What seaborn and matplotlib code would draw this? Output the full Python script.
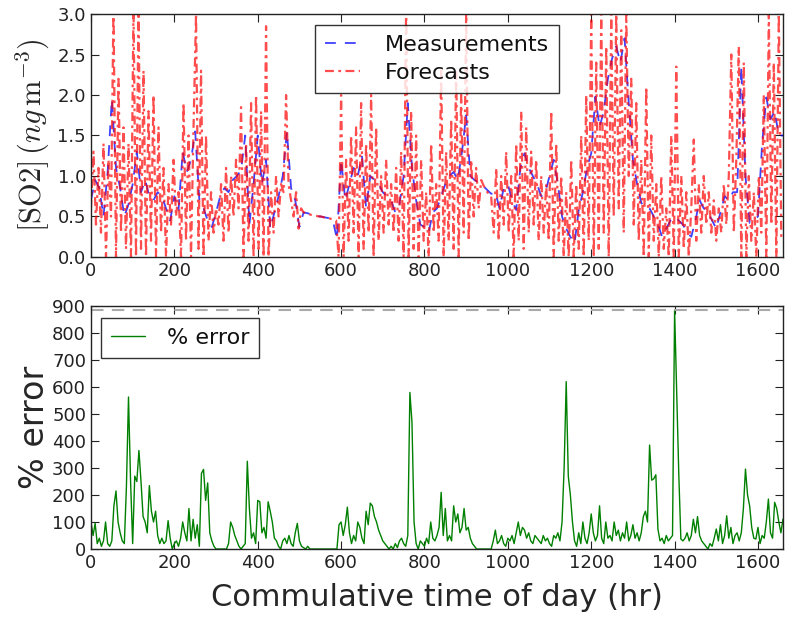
import numpy as np
import pandas as pd
import matplotlib
matplotlib.use("Agg")
import matplotlib.pyplot as plt
import seaborn as sns

# Measured SO2 concentration, one value every 10 hours (ng m^-3)
measurements = [
    0.70, 0.95, 0.85, 0.50, 1.05, 1.95, 1.10, 0.85, 0.50, 0.65,
    0.90, 1.30, 0.80, 0.95, 0.75, 0.70, 0.80, 0.75, 0.60, 0.45,
    0.75, 0.58, 1.30, 1.05, 1.20, 1.55, 0.70, 0.60, 0.45, 0.37,
    0.55, 0.75, 0.85, 0.80, 0.95, 1.00, 1.07, 1.50, 0.40, 0.90,
    1.50, 0.90, 1.20, 0.35, 0.55, 0.75, 1.00, 1.55, 0.85, 0.70,
    0.37, 0.55, 0.54, 0.52, 0.51, 0.50, 0.49, 0.48, 0.46, 0.22,
    1.20, 0.70, 0.90, 1.10, 1.00, 1.25, 0.60, 1.00, 0.95, 0.90,
    0.80, 0.75, 0.70, 0.55, 0.65, 1.00, 1.90, 1.10, 0.70, 0.40,
    0.37, 0.30, 0.55, 0.60, 0.75, 0.90, 1.00, 1.05, 0.95, 1.30,
    1.75, 1.00, 0.95, 0.92, 0.88, 0.83, 0.78, 0.80, 0.60, 0.85,
    0.90, 0.70, 0.58, 1.10, 1.28, 1.10, 1.00, 0.90, 0.75, 0.80,
    1.00, 1.20, 0.90, 0.50, 0.35, 0.25, 0.17, 0.58, 0.80, 1.10,
    1.28, 1.98, 1.60, 1.80, 2.20, 2.45, 2.60, 2.40, 2.70, 1.90,
    1.20, 0.90, 0.67, 0.60, 0.60, 0.50, 0.40, 0.25, 0.35, 0.45,
    0.50, 0.45, 0.40, 0.30, 0.25, 0.45, 0.70, 0.60, 0.55, 0.45,
    0.35, 0.55, 0.75, 0.70, 0.80, 0.80, 2.35, 1.00, 0.42, 0.45,
    0.50, 1.40, 1.97, 1.70, 1.80, 1.50, 1.50,
]

# Forecast SO2 concentration, one value every 6 hours (ng m^-3)
forecasts = [
    0.60, 1.30, 0.40, 1.10, 0.30, 1.40, 0.00, 1.20, 0.50, 3.10,
    0.00, 2.20, 0.30, 1.60, 0.10, 1.40, 0.00, 3.10, 0.00, 3.10,
    0.10, 2.30, 0.00, 1.80, 0.20, 2.00, 0.00, 1.60, 0.30, 1.10,
    0.00, 0.90, 0.40, 1.20, 0.50, 0.80, 0.00, 1.90, 0.20, 1.50,
    0.00, 1.60, 3.00, 0.10, 2.30, 0.00, 1.50, 0.20, 0.80, 0.30,
    0.60, 0.40, 0.90, 0.20, 1.10, 0.30, 1.00, 0.50, 1.20, 0.60,
    1.85, 0.00, 1.40, 0.20, 1.90, 0.00, 2.00, 0.10, 1.80, 0.00,
    2.85, 0.00, 0.80, 0.30, 1.00, 0.50, 0.90, 0.80, 2.00, 0.90,
    0.70, 0.50, 0.80, 0.35, 0.60, 0.55, 0.54, 0.53, 0.52, 0.51,
    0.51, 0.50, 0.50, 0.49, 0.48, 0.48, 0.47, 0.46, 0.45, 0.00,
    2.00, 0.00, 1.20, 0.20, 1.50, 0.30, 1.60, 0.00, 1.90, 0.10,
    1.40, 0.30, 2.00, 0.00, 1.60, 0.20, 1.00, 0.30, 1.20, 0.40,
    0.90, 0.30, 1.10, 0.20, 1.30, 0.00, 3.10, 0.00, 1.80, 0.10,
    1.50, 0.00, 1.20, 0.20, 0.80, 0.00, 1.40, 0.30, 0.90, 0.20,
    2.30, 0.00, 1.30, 0.20, 1.70, 0.10, 2.30, 0.00, 2.00, 0.30,
    3.00, 0.20, 1.20, 0.50, 1.10, 0.60, 0.95, 0.88, 0.82, 0.78,
    0.75, 0.30, 1.10, 0.20, 1.00, 0.40, 1.30, 0.30, 1.00, 0.00,
    1.40, 0.20, 1.80, 0.10, 1.60, 0.30, 1.30, 0.40, 1.20, 0.20,
    1.00, 0.30, 0.90, 0.20, 1.80, 0.00, 1.40, 0.20, 1.00, 0.00,
    0.80, 0.00, 1.20, 0.00, 0.90, 0.10, 1.50, 0.00, 2.00, 0.20,
    3.00, 0.00, 2.40, 0.10, 3.00, 0.30, 2.60, 0.00, 3.00, 0.50,
    3.00, 0.60, 2.80, 0.30, 3.00, 1.00, 2.20, 0.40, 1.90, 0.20,
    1.20, 0.00, 2.10, 0.00, 1.50, 0.20, 0.90, 0.00, 1.00, 0.10,
    0.60, 0.00, 1.50, 0.00, 2.35, 0.00, 1.00, 0.10, 0.80, 0.00,
    0.60, 1.45, 0.20, 0.90, 0.30, 1.00, 0.40, 0.80, 0.30, 0.70,
    0.20, 0.60, 0.30, 0.90, 0.40, 1.00, 2.50, 0.30, 1.20, 2.60,
    0.00, 2.40, 0.00, 1.00, 0.20, 0.80, 0.00, 1.00, 0.30, 2.00,
    0.00, 3.00, 0.40, 2.40, 0.00, 3.00, 0.20,
]

# Percentage error of the forecasts, one value every 5 hours
pct_error = [
    100, 50, 95, 20, 40, 10, 30, 100, 20, 10, 30, 160,
    215, 100, 60, 30, 20, 230, 563, 250, 20, 270, 250, 365,
    250, 120, 100, 60, 235, 140, 100, 140, 50, 20, 40, 20,
    30, 105, 40, 0, 20, 30, 10, 40, 100, 60, 30, 150,
    30, 110, 40, 90, 10, 280, 295, 180, 245, 60, 30, 10,
    0, 0, 0, 0, 0, 0, 20, 100, 80, 50, 30, 10,
    0, 10, 20, 325, 150, 40, 60, 20, 180, 175, 60, 80,
    40, 175, 140, 100, 40, 30, 10, 0, 30, 40, 20, 50,
    20, 10, 60, 95, 30, 10, 5, 0, 10, 0, 0, 0,
    0, 0, 0, 0, 0, 0, 0, 0, 0, 0, 0, 90,
    100, 50, 90, 155, 60, 20, 50, 30, 100, 80, 40, 20,
    140, 90, 170, 160, 120, 100, 70, 50, 30, 20, 10, 0,
    10, 0, 20, 5, 30, 40, 20, 10, 50, 580, 470, 100,
    20, 0, 30, 20, 10, 40, 20, 100, 40, 30, 50, 80,
    210, 50, 150, 30, 50, 30, 160, 100, 130, 60, 80, 150,
    70, 80, 40, 20, 10, 0, 0, 0, 0, 0, 0, 0,
    0, 30, 70, 20, 30, 50, 20, 10, 40, 30, 50, 20,
    60, 100, 50, 80, 70, 40, 60, 30, 20, 50, 40, 30,
    20, 50, 30, 40, 20, 10, 50, 40, 60, 30, 100, 300,
    620, 270, 200, 100, 30, 10, 60, 20, 100, 40, 20, 60,
    130, 60, 30, 50, 160, 40, 20, 100, 40, 50, 30, 100,
    50, 70, 30, 60, 40, 100, 30, 50, 90, 40, 60, 30,
    60, 120, 140, 100, 385, 255, 260, 275, 74, 30, 40, 20,
    50, 30, 40, 50, 885, 588, 280, 37, 30, 40, 60, 30,
    50, 110, 60, 120, 50, 30, 20, 10, 0, 20, 10, 40,
    74, 30, 90, 20, 50, 123, 40, 80, 20, 50, 60, 30,
    60, 150, 296, 200, 160, 80, 40, 37, 80, 20, 50, 40,
    100, 185, 60, 40, 173, 150, 100, 60, 111,
]

x_ticks = [0, 200, 400, 600, 800, 1000, 1200, 1400, 1600]
so2_ticks = [0.0, 0.5, 1.0, 1.5, 2.0, 2.5, 3.0]
err_ticks = [0, 100, 200, 300, 400, 500, 600, 700, 800, 900]

meas_df = pd.DataFrame({"hour": np.arange(len(measurements)) * 10,
                        "value": measurements})
fc_df = pd.DataFrame({"hour": np.arange(len(forecasts)) * 6,
                      "value": forecasts})
err_df = pd.DataFrame({"hour": np.arange(len(pct_error)) * 5,
                       "value": pct_error})

sns.set_style("ticks")
plt.rcParams.update({
    "font.family": ["DejaVu Sans"],
    "mathtext.fontset": "cm",
    "xtick.direction": "in",
    "ytick.direction": "in",
    "xtick.top": True,
    "ytick.right": True,
    "xtick.major.size": 6,
    "ytick.major.size": 6,
    "xtick.labelsize": 13,
    "ytick.labelsize": 13,
    "axes.linewidth": 1.0,
    "axes.edgecolor": "#222222",
    "xtick.color": "#222222",
    "ytick.color": "#222222",
    "text.color": "#111111",
})

fig = plt.figure(figsize=(7.87, 6.17), dpi=100)
ax1 = fig.add_axes([0.1156, 0.5835, 0.8793, 0.3938])
ax2 = fig.add_axes([0.1156, 0.1102, 0.8793, 0.3938])

# Top panel: measured vs forecast concentrations
sns.lineplot(data=meas_df, x="hour", y="value", ax=ax1, color="blue",
             linewidth=1.3, alpha=0.75, label="Measurements",
             dashes=False)
ax1.lines[-1].set_dashes((6, 5))
sns.lineplot(data=fc_df, x="hour", y="value", ax=ax1, color="red",
             linewidth=1.6, alpha=0.7, label="Forecasts", dashes=False)
ax1.lines[-1].set_dashes((4, 2, 1.2, 2))
ax1.set_xlim(0, 1660)
ax1.set_ylim(0, 3.0)
ax1.set_xticks(x_ticks)
ax1.set_yticks(so2_ticks)
ax1.set_yticklabels([f"{t:.1f}" for t in so2_ticks])
ax1.set_xlabel("")
ax1.set_ylabel(r"$[\mathrm{SO2}]\,(ng\,\mathrm{m}^{-3})$", fontsize=22,
               labelpad=4)
handles1, labels1 = ax1.get_legend_handles_labels()
leg1 = ax1.legend(handles1, labels1, loc="upper center",
                  bbox_to_anchor=(0.5, 0.955), borderaxespad=0,
                  fontsize=16, frameon=True, fancybox=False,
                  edgecolor="black", handlelength=1.6, borderpad=0.45,
                  handletextpad=1.1, labelspacing=0.35)
leg1.get_frame().set_linewidth(1.0)

# Bottom panel: percentage error with its maximum marked
sns.lineplot(data=err_df, x="hour", y="value", ax=ax2, color="green",
             linewidth=1.0, label="% error")
ax2.axhline(np.max(pct_error), color="#aaaaaa", linestyle="--",
            linewidth=1.5, dashes=(6, 4))
ax2.set_xlim(0, 1660)
ax2.set_ylim(0, 900)
ax2.set_xticks(x_ticks)
ax2.set_yticks(err_ticks)
ax2.set_xlabel("Commulative time of day (hr)", fontsize=22, labelpad=8)
ax2.set_ylabel("% error", fontsize=24, labelpad=1)
leg2 = ax2.legend(loc="upper left", bbox_to_anchor=(0.015, 0.95),
                  borderaxespad=0, fontsize=16, frameon=True,
                  fancybox=False, edgecolor="black", handlelength=1.5,
                  borderpad=0.45, handletextpad=1.0)
leg2.get_frame().set_linewidth(1.0)

for ax in (ax1, ax2):
    for side in ("top", "right", "bottom", "left"):
        ax.spines[side].set_visible(True)

fig.savefig("out.png", dpi=100)
